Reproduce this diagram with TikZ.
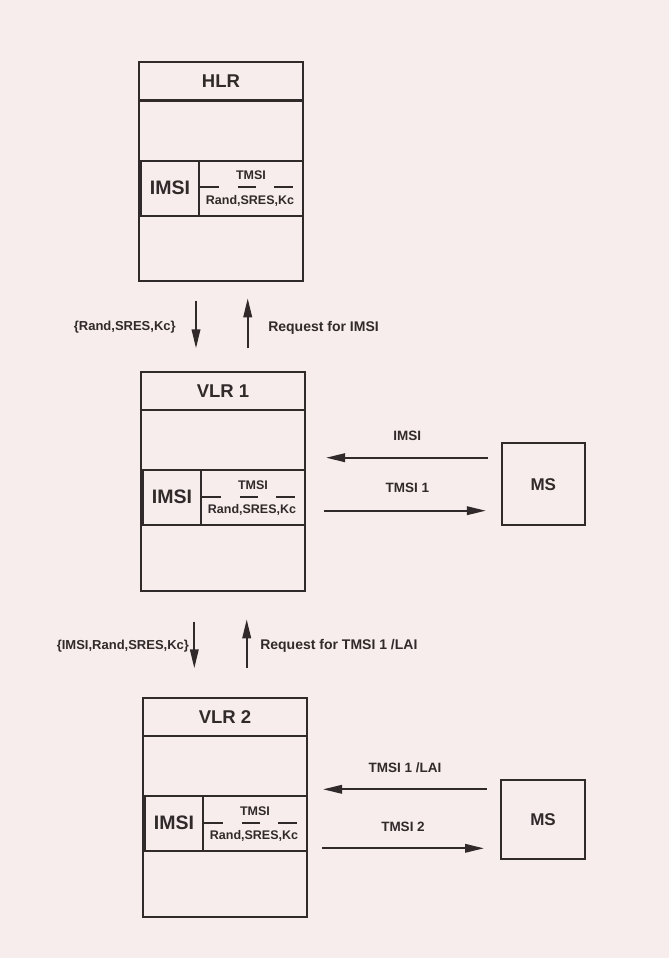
\documentclass[tikz,border=0pt]{standalone}
\usepackage{fontspec}
\setmainfont{Liberation Sans}
\usetikzlibrary{arrows.meta}
\definecolor{bg}{RGB}{247,237,236}
\definecolor{ink}{RGB}{48,42,42}
\tikzset{
  regframe/.style={draw=ink, line width=2pt, inner sep=0pt, outer sep=0pt},
  headtxt/.style={text=ink, font=\fontsize{18.5}{20}\selectfont\bfseries, inner sep=0pt},
  imsitxt/.style={text=ink, font=\fontsize{19.5}{21}\selectfont\bfseries, inner sep=0pt},
  smalltxt/.style={text=ink, font=\fontsize{12.5}{14}\selectfont\bfseries, inner sep=0pt},
  lbl/.style={text=ink, font=\fontsize{13.5}{15}\selectfont\bfseries, inner sep=0pt},
  reqlbl/.style={text=ink, font=\fontsize{14}{16}\selectfont\bfseries, inner sep=0pt},
  sidelbl/.style={text=ink, font=\fontsize{13}{15}\selectfont\bfseries, inner sep=0pt},
  dashline/.style={draw=ink, line width=2pt},
  flowarrow/.style={draw=ink, line width=2pt, -{Triangle[length=19pt,width=8.5pt]}},
}
\newcommand\regbox[5]{%
  \begin{scope}[shift={(#2,#3)}]
    \node[regframe, minimum width=164pt, minimum height=219pt, anchor=north west] (#1) at (0,0) {};
    \draw[draw=ink, line width=#5] (0,38.5) -- (164,38.5);
    \node[headtxt] (#1-name) at (82,19) {#4};
    \node[regframe, minimum width=60pt, minimum height=55pt, anchor=north west] (#1-imsi) at (0,98.5) {};
    \node[regframe, minimum width=104pt, minimum height=55pt, anchor=north west] (#1-tmsi) at (60,98.5) {};
    \draw[draw=ink, line width=2pt] (2,98.5) -- (2,153.5);
    \node[imsitxt] (#1-imsitext) at (31,125.5) {IMSI};
    \node[smalltxt] (#1-t) at (112,113) {TMSI};
    \draw[dashline] (61,125) -- (80,125) (99,125) -- (117,125) (135,125) -- (154,125);
    \node[smalltxt] (#1-k) at (111,138.5) {Rand,SRES,Kc};
  \end{scope}}
\begin{document}
\begin{tikzpicture}[x=1pt,y=-1pt]
\fill[bg] (0,0) rectangle (669,958);
\useasboundingbox (0,0) rectangle (669,958);

\regbox{hlr}{139}{62}{HLR}{3.5pt}
\regbox{vlr1}{141}{371.7}{VLR 1}{2pt}
\regbox{vlr2}{143}{697.7}{VLR 2}{2pt}

\node[regframe, minimum width=83.5pt, minimum height=81.5pt, font=\fontsize{17}{18}\selectfont\bfseries, text=ink] (ms1) at (543.3,484.2) {MS};
\node[regframe, minimum width=84pt, minimum height=79.5pt, font=\fontsize{17}{18}\selectfont\bfseries, text=ink] (ms2) at (543,819.7) {MS};

% HLR <-> VLR1
\coordinate (d1) at ([xshift=-25pt]hlr.south);
\coordinate (u1) at ([xshift=26.7pt]hlr.south);
\draw[flowarrow, shorten <=19.7pt, shorten >=23.4pt] (d1) -- (d1 |- vlr1.north)
  node[sidelbl, midway, anchor=east, xshift=-19.3pt, yshift=-0.5pt] {\{Rand,SRES,Kc\}};
\draw[flowarrow, shorten <=23.4pt, shorten >=17.3pt] (u1 |- vlr1.north) -- (u1)
  node[reqlbl, midway, anchor=west, xshift=19.6pt, yshift=-1.5pt] {Request for IMSI};

% VLR1 <-> VLR2
\coordinate (d2) at ([xshift=-28.7pt]vlr1.south);
\coordinate (u2) at ([xshift=23.7pt]vlr1.south);
\draw[flowarrow, shorten <=31pt, shorten >=29.4pt] (d2) -- (d2 |- vlr2.north)
  node[sidelbl, midway, anchor=east, xshift=-4.3pt, yshift=-1.5pt] {\{IMSI,Rand,SRES,Kc\}};
\draw[flowarrow, shorten <=29.4pt, shorten >=28.6pt] (u2 |- vlr2.north) -- (u2)
  node[reqlbl, midway, anchor=west, xshift=12.6pt, yshift=-1.5pt] {Request for TMSI 1 /LAI};

% VLR1 <-> MS
\coordinate (m1a) at ([yshift=26.5pt]ms1.west);
\coordinate (m1b) at ([yshift=-26.5pt]ms1.west);
\draw[flowarrow, shorten <=13.7pt, shorten >=21pt] (m1a) -- (m1a -| vlr1.east)
  node[lbl, midway, xshift=4pt, yshift=21.7pt] {IMSI};
\draw[flowarrow, shorten <=19.3pt, shorten >=15.7pt] (m1b -| vlr1.east) -- (m1b)
  node[lbl, midway, xshift=4pt, yshift=22.4pt] {TMSI 1};

% VLR2 <-> MS
\coordinate (m2a) at ([yshift=30.4pt]ms2.west);
\coordinate (m2b) at ([yshift=-28.6pt]ms2.west);
\draw[flowarrow, shorten <=14.3pt, shorten >=16pt] (m2a) -- (m2a -| vlr2.east)
  node[lbl, midway, xshift=1pt, yshift=22pt] {TMSI 1 /LAI};
\draw[flowarrow, shorten <=15.4pt, shorten >=17pt] (m2b -| vlr2.east) -- (m2b)
  node[lbl, midway, xshift=-1pt, yshift=21pt] {TMSI 2};
\end{tikzpicture}
\end{document}
